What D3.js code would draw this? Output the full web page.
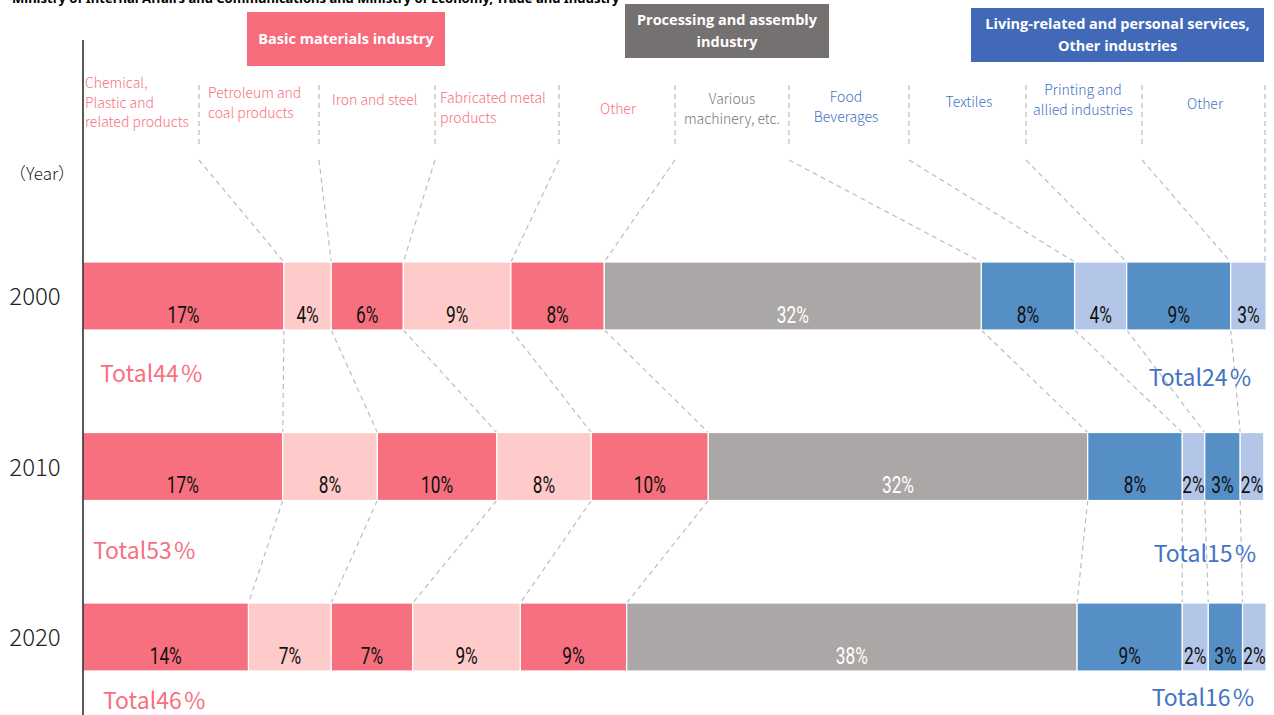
<!DOCTYPE html>
<html>
<head>
<meta charset="utf-8">
<script src="https://cdn.jsdelivr.net/npm/d3@7"></script>
<style>
  body { margin: 0; background: #fff; }
  svg { display: block; }
</style>
</head>
<body>
<svg id="chart" width="1274" height="715"></svg>
<script>
// shares of manufacturing shipments by industry (%)
const years = ['2000', '2010', '2020'];
const categories = [
    'Chemical, Plastic and related products', 'Petroleum and coal products', 'Iron and steel',
    'Fabricated metal products', 'Other (basic)', 'Various machinery, etc.', 'Food Beverages',
    'Textiles', 'Printing and allied industries', 'Other (living)'
];
const groupOf = ['basic', 'basic', 'basic', 'basic', 'basic', 'proc', 'living', 'living', 'living', 'living'];
const share2000 = [17.0, 4.0, 6.1, 9.1, 7.9, 31.9, 7.9, 4.4, 8.8, 3.0];
const share2010 = [16.9, 8.0, 10.1, 8.0, 9.9, 32.1, 8.0, 1.9, 3.0, 2.0];
const share2020 = [14.0, 7.0, 6.9, 9.1, 9.0, 38.1, 8.9, 2.2, 2.9, 2.0];
const shares = [share2000, share2010, share2020];

const fillColors = ['#f7707f', '#ffcaca', '#f7707f', '#ffcaca', '#f7707f', '#aba7a6', '#558fc6', '#b3c6e7', '#558fc6', '#b3c6e7'];
const groupColor = { basic: '#f7707f', proc: '#7a7776', living: '#4472c4' };
const cjk = "'Noto Sans CJK JP', 'Noto Sans', sans-serif";

const svg = d3.select('#chart');
const x = d3.scaleLinear().domain([0, 100]).range([83, 1265]);
const y = d3.scaleBand().domain(years).range([262, 671]).paddingInner(0.6012).paddingOuter(0);
const bh = y.bandwidth();

// source line (cut at the top, as in the original)
svg.append('text').attr('x', 12).attr('y', 3)
    .style('font-family', "'Noto Sans', sans-serif").style('font-weight', 'bold').style('font-size', '13px')
    .text('Ministry of Internal Affairs and Communications and Ministry of Economy, Trade and Industry');

// group header boxes
const headers = [
    { lines: ['Basic materials industry'], x: 247, y: 12, w: 198, h: 54, fill: '#f76b7b' },
    { lines: ['Processing and assembly', 'industry'], x: 625, y: 4, w: 204, h: 54, fill: '#767171' },
    { lines: ['Living-related and personal services,', 'Other industries'], x: 971, y: 8, w: 293, h: 54, fill: '#4169b8' }
];
headers.forEach(hd => {
    svg.append('rect').attr('x', hd.x).attr('y', hd.y).attr('width', hd.w).attr('height', hd.h).attr('fill', hd.fill);
    const t = svg.append('text').attr('text-anchor', 'middle').attr('fill', '#fff')
        .style('font-family', "'Open Sans', sans-serif").style('font-weight', 'bold').style('font-size', '14.5px');
    const n = hd.lines.length;
    hd.lines.forEach((ln, i) => {
        t.append('tspan').attr('x', hd.x + hd.w / 2)
            .attr('y', hd.y + hd.h / 2 + 5 + (i - (n - 1) / 2) * 22).text(ln);
    });
});

// category labels above the bars
const labelLines = [
    ['Chemical,', 'Plastic and', 'related products'], ['Petroleum and', 'coal products'], ['Iron and steel'],
    ['Fabricated metal', 'products'], ['Other'], ['Various', 'machinery, etc.'], ['Food', 'Beverages'],
    ['Textiles'], ['Printing and', 'allied industries'], ['Other']
];
const labelPos = [
    { x: 85, y: 88, a: 'start' }, { x: 208, y: 98, a: 'start' }, { x: 332, y: 105, a: 'start' },
    { x: 440, y: 103, a: 'start' }, { x: 618, y: 114, a: 'middle' }, { x: 732, y: 104, a: 'middle' },
    { x: 846, y: 102, a: 'middle' }, { x: 969, y: 107, a: 'middle' }, { x: 1083, y: 95, a: 'middle' },
    { x: 1205, y: 109, a: 'middle' }
];
labelLines.forEach((lines, i) => {
    const p = labelPos[i];
    const t = svg.append('text').attr('text-anchor', p.a)
        .attr('fill', groupColor[groupOf[i]])
        .style('font-family', cjk).style('font-weight', '300').style('font-size', '14px');
    lines.forEach((ln, j) => t.append('tspan').attr('x', p.x).attr('y', p.y + j * 19.5).text(ln));
});

const dash = sel => sel.attr('fill', 'none').attr('stroke', '#bdbdbd').attr('stroke-width', 1.2).attr('stroke-dasharray', '5,4');

// separators between labels and leaders to the 2000 bar
const sepX = [199, 319, 435, 559, 675, 789, 909, 1026, 1142, 1265];
const cum = shares.map(s => d3.cumsum(s));
sepX.forEach((sx, i) => {
    if (i < 9) {
        svg.append('line').attr('x1', sx).attr('x2', sx).attr('y1', 85).attr('y2', 148).call(dash);
        svg.append('line').attr('x1', sx).attr('y1', 160).attr('x2', x(cum[0][i])).attr('y2', y('2000')).call(dash);
    } else {
        svg.append('line').attr('x1', sx).attr('x2', sx).attr('y1', 85).attr('y2', y('2000')).call(dash);
    }
});

// leaders between consecutive years
for (let r = 0; r < years.length - 1; r++) {
    for (let k = 0; k < 9; k++) {
        svg.append('line')
            .attr('x1', x(cum[r][k])).attr('y1', y(years[r]) + bh)
            .attr('x2', x(cum[r + 1][k])).attr('y2', y(years[r + 1]))
            .call(dash);
    }
}

// stacked bars
years.forEach((yr, r) => {
    const s = shares[r];
    const segs = s.map((v, i) => ({ v, i, x0: i === 0 ? 0 : cum[r][i - 1], x1: cum[r][i] }));
    const g = svg.append('g');
    g.selectAll('rect').data(segs).join('rect')
        .attr('x', d => x(d.x0)).attr('y', y(yr))
        .attr('width', d => x(d.x1) - x(d.x0)).attr('height', bh)
        .attr('fill', d => fillColors[d.i])
        .attr('stroke', '#fff').attr('stroke-width', 1.2);
    // narrow, tall percent labels
    g.selectAll('text').data(segs).join('text')
        .attr('transform', d => `translate(${(x(d.x0) + x(d.x1)) / 2},${y(yr) + bh - 7}) scale(0.72,1)`)
        .attr('text-anchor', 'middle')
        .attr('fill', d => groupOf[d.i] === 'proc' ? '#fff' : '#111')
        .style('font-family', "Roboto, 'Noto Sans', sans-serif")
        .style('font-weight', '400')
        .style('font-size', '24px')
        .text(d => d3.format('.0f')(d.v) + '%');
});

// group totals
const totalPos = [
    { lx: 100, ly: 382, rx: 1252, ry: 386 },
    { lx: 93, ly: 559, rx: 1257, ry: 562 },
    { lx: 103, ly: 709, rx: 1255, ry: 706 }
];
const totalText = (tx, yv, anchor, color, val) => {
    const t = svg.append('text').attr('x', tx).attr('y', yv).attr('text-anchor', anchor).attr('fill', color)
        .style('font-family', cjk).style('font-size', '23px');
    t.append('tspan').text('Total' + d3.format('.0f')(val));
    t.append('tspan').attr('dx', 1.5).text('％');
};
years.forEach((yr, r) => {
    const s = shares[r];
    const basic = d3.sum(s.filter((v, i) => groupOf[i] === 'basic'));
    const living = d3.sum(s.filter((v, i) => groupOf[i] === 'living'));
    const p = totalPos[r];
    totalText(p.lx, p.ly, 'start', groupColor.basic, basic);
    totalText(p.rx, p.ry, 'end', groupColor.living, living);
});

// year axis
svg.append('line').attr('x1', 83).attr('x2', 83).attr('y1', 40).attr('y2', 715)
    .attr('stroke', '#000').attr('stroke-width', 1.3);
svg.append('text').attr('x', 42).attr('y', 180).attr('text-anchor', 'middle')
    .style('font-family', cjk).style('font-weight', '300').style('font-size', '17px').attr('fill', '#222')
    .text('（Year）');
years.forEach(yr => {
    svg.append('text').attr('x', 35).attr('y', y(yr) + bh / 2 + 9).attr('text-anchor', 'middle')
        .style('font-family', cjk).style('font-weight', '300').style('font-size', '24px').attr('fill', '#222')
        .text(yr);
});
</script>
</body>
</html>
